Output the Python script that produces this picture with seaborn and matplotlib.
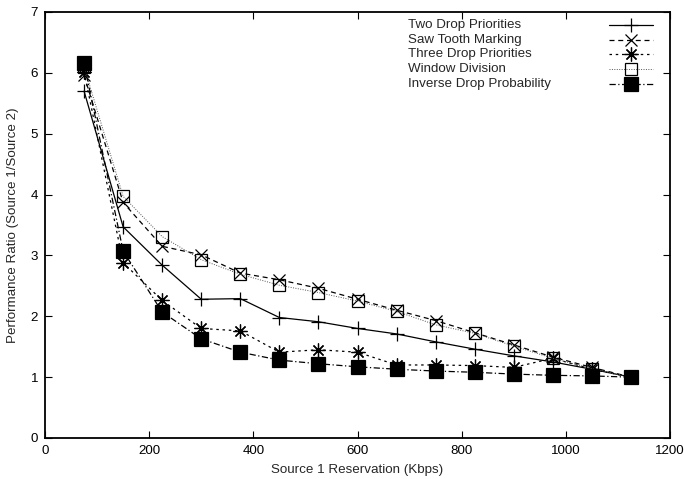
import matplotlib
matplotlib.use("Agg")
import matplotlib.pyplot as plt
from matplotlib.lines import Line2D
import seaborn as sns
import pandas as pd

# Source 1 reservation (Kbps)
reservation = [75, 150, 225, 300, 375, 450, 525, 600, 675, 750, 825, 900, 975, 1050, 1125]

# Performance ratio (Source 1 / Source 2) for each marking scheme
two_drop = [5.70, 3.47, 2.84, 2.28, 2.29, 1.98, 1.91, 1.80, 1.71, 1.58, 1.46, 1.35, 1.25, 1.13, 1.00]
saw_tooth = [5.96, 3.87, 3.15, 3.01, 2.71, 2.60, 2.46, 2.28, 2.10, 1.93, 1.73, 1.53, 1.33, 1.16, 1.00]
three_drop = [6.02, 2.88, 2.26, 1.80, 1.76, 1.41, 1.45, 1.41, 1.20, 1.20, 1.19, 1.16, 1.31, 1.13, 1.00]
window_div = [6.10, 3.97, 3.31, 2.93, 2.69, 2.51, 2.39, 2.25, 2.08, 1.86, 1.72, 1.51, 1.31, 1.14, 1.00]
inverse_drop = [6.16, 3.07, 2.07, 1.63, 1.41, 1.28, 1.22, 1.17, 1.13, 1.10, 1.08, 1.05, 1.03, 1.02, 1.00]

labels = ["Two Drop Priorities", "Saw Tooth Marking", "Three Drop Priorities",
          "Window Division", "Inverse Drop Probability"]
series = [two_drop, saw_tooth, three_drop, window_div, inverse_drop]

x_ticks = [0, 200, 400, 600, 800, 1000, 1200]
y_ticks = [0, 1, 2, 3, 4, 5, 6, 7]

sns.set_style("ticks")
plt.rcParams["font.family"] = ["Liberation Sans", "DejaVu Sans"]
FS = 9.6

# line / marker styling per scheme
styles = [
    dict(linestyle="-", marker="+", markersize=10, mfc="none", lw=0.9, color="black"),
    dict(linestyle=(0, (4, 3)), marker="x", markersize=9, mfc="none", lw=0.9, color="black"),
    dict(linestyle=(0, (2, 3)), marker=(8, 2, 0), markersize=10, mfc="none", lw=0.9, color="black"),
    dict(linestyle=(0, (1, 1.5)), marker="s", markersize=9, mfc="none", lw=0.7, color="#555555"),
    dict(linestyle=(0, (5, 2, 1, 2)), marker="s", markersize=9.5, mfc="black", lw=0.9, color="black"),
]

fig = plt.figure(figsize=(6.84, 4.79), dpi=100)
ax = fig.add_axes([45 / 684, 1 - 438 / 479, 625 / 684, 426 / 479])

for lab, vals, st in zip(labels, series, styles):
    df = pd.DataFrame({"reservation": reservation, "ratio": vals})
    sns.lineplot(data=df, x="reservation", y="ratio", ax=ax,
                 color=st["color"], linestyle=st["linestyle"], linewidth=st["lw"],
                 marker=st["marker"], markersize=st["markersize"],
                 markerfacecolor=st["mfc"], markeredgecolor="black",
                 markeredgewidth=0.9, legend=False)

ax.set_xlim(0, 1200)
ax.set_ylim(0, 7)
ax.set_xticks(x_ticks)
ax.set_yticks(y_ticks)
ax.tick_params(direction="in", length=5, width=0.8, top=True, right=True,
               labelsize=FS, pad=5, colors="black")
for sp in ax.spines.values():
    sp.set_visible(True)
    sp.set_linewidth(1.3)
    sp.set_color("black")

ax.set_xlabel("Source 1 Reservation (Kbps)", fontsize=FS, labelpad=5)
ax.set_ylabel("Performance Ratio (Source 1/Source 2)", fontsize=FS, labelpad=8)

# key in the upper right: text left-aligned, sample line to the right
row_y = [25, 39.5, 54, 69, 84]
for lab, st, yp in zip(labels, styles, row_y):
    yf = 1 - yp / 479
    fig.text(408 / 684, yf, lab, fontsize=FS, va="center", ha="left")
    fig.add_artist(Line2D([609 / 684, 653 / 684], [yf, yf], transform=fig.transFigure,
                          color=st["color"], linestyle=st["linestyle"], linewidth=st["lw"]))
    fig.add_artist(Line2D([631 / 684], [yf], transform=fig.transFigure,
                          marker=st["marker"], markersize=st["markersize"],
                          markerfacecolor=st["mfc"], markeredgecolor="black",
                          markeredgewidth=0.9, linestyle="none"))

fig.savefig("out.png", dpi=100)
